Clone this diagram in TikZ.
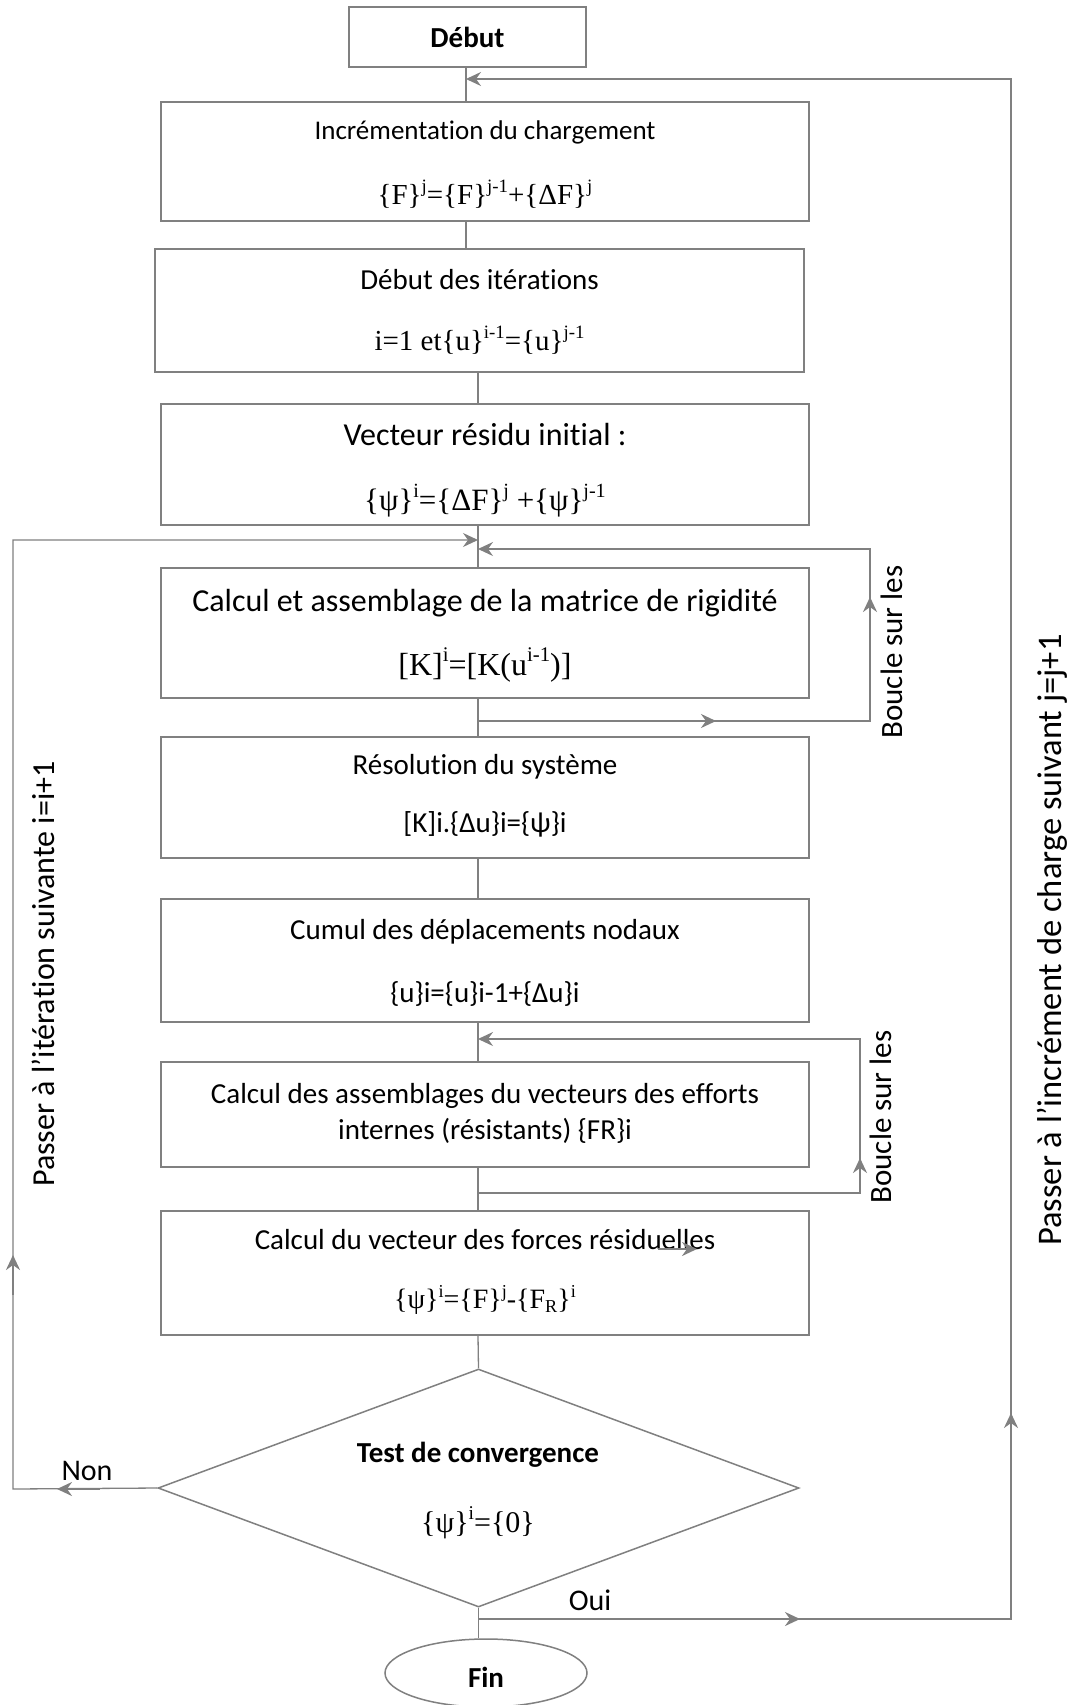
\documentclass[tikz,border=0pt]{standalone}
\usepackage{fontspec}
\setmainfont{Carlito}[Ligatures=NoCommon]
\newfontfamily\tnr{Liberation Serif}
\usetikzlibrary{shapes.geometric,arrows.meta}
\definecolor{lg}{RGB}{128,128,128}
\makeatletter
\newcommand\supx[1]{\raisebox{0.42em}{\fontsize{\strip@pt\dimexpr\f@size pt*65/100\relax}{1}\selectfont #1}}
\newcommand\subx[1]{\raisebox{-0.12em}{\fontsize{\strip@pt\dimexpr\f@size pt*65/100\relax}{1}\selectfont #1}}
\makeatother
\tikzset{
  box/.style={draw=lg, line width=1.5pt, minimum width=648pt, inner sep=0pt, fill=white},
  conn/.style={draw=lg, line width=1.3pt},
  arr/.style={conn, -{Stealth[length=15pt,width=14pt,inset=5pt]}},
  midarr/.style={draw=lg, line width=2.2pt, -{Stealth[length=15pt,width=14pt,inset=5pt]}},
  tx/.style={inner sep=0pt, font=\fontsize{#1}{#1}\selectfont},
  tt/.style={inner sep=0pt, font=\tnr\fontsize{#1}{#1}\selectfont},
  tb/.style={inner sep=0pt, font=\bfseries\fontsize{#1}{#1}\selectfont},
}
\begin{document}
\begin{tikzpicture}[x=1pt,y=-1pt]
\fill[white] (0,0) rectangle (1074,1705);
\useasboundingbox (0,0) rectangle (1074,1705);
% chain x positions
\coordinate (xa) at (466,0);
\coordinate (xb) at (478,0);
% boxes
\node[box, minimum width=237pt, minimum height=60pt] (deb) at (467.5,37) {};
\node[box, minimum height=119pt] (b1) at (485,161.5) {};
\node[box, minimum width=649pt, minimum height=123pt] (b2) at (479.5,310.5) {};
\node[box, minimum height=121pt] (b3) at (485,464.5) {};
\node[box, minimum height=130pt] (b4) at (485,633) {};
\node[box, minimum height=121pt] (b5) at (485,797.5) {};
\node[box, minimum height=123pt] (b6) at (485,960.5) {};
\node[box, minimum height=105pt] (b7) at (485,1114.5) {};
\node[box, minimum height=124pt] (b8) at (485,1273) {};
\node[draw=lg, line width=1.5pt, shape=diamond, minimum width=641pt, minimum height=238pt, inner sep=0pt] (dia) at (478.5,1488) {};
\node[draw=lg, line width=1.5pt, shape=ellipse, minimum width=202pt, minimum height=68pt, inner sep=0pt] (fin) at (486,1673) {};
% texts
\node[tb=29] (debt) at (467.5,37) {Début};
\node[tx=27] (b1t) at (485,132) {Incrémentation du chargement};
\node[tt=29] (b1f) at (485,194) {\{F\}\supx{j}=\{F\}\supx{j-1}+\{ΔF\}\supx{j}};
\node[tx=29] (b2t) at (479.5,280) {Début des itérations};
\node[tt=29] (b2f) at (479.5,340) {i=1 et\{u\}\supx{i-1}=\{u\}\supx{j-1}};
\node[tx=32] (b3t) at (485,435) {Vecteur résidu initial :};
\node[tt=31] (b3f) at (485,501) {\{ψ\}\supx{i}=\{ΔF\}\supx{j} +\{ψ\}\supx{j-1}};
\node[tx=32] (b4t) at (485,603) {Calcul et assemblage de la matrice de rigidité};
\node[tt=32] (b4f) at (485,665) {[K]\supx{i}=[K(u\supx{i-1})]};
\node[tx=29] (b5t) at (485,767) {Résolution du système};
\node[tx=29] (b5f) at (485,824) {[K]i.\{Δu\}i=\{ψ\}i};
\node[tx=29] (b6t) at (485,932) {Cumul des déplacements nodaux};
\node[tx=29] (b6f) at (485,994) {\{u\}i=\{u\}i-1+\{Δu\}i};
\node[tx=29, align=center, font=\fontsize{29}{36}\selectfont] (b7t) at (485,1113) {Calcul des assemblages du vecteurs des efforts\\internes (résistants) \{FR\}i};
\node[tx=29] (b8t) at (485,1240) {Calcul du vecteur des forces résiduelles};
\node[tt=28] (b8f) at (485,1300) {\{ψ\}\supx{i}=\{F\}\supx{j}-\{F\subx{R}\}\supx{i}};
\node[tb=29] (diat) at (478,1455) {Test de convergence};
\node[tt=30] (diaf) at (478,1523) {\{ψ\}\supx{i}=\{0\}};
\node[tb=29] (fint) at (486,1677) {Fin};
\node[tx=30] (non) at (87,1471) {Non};
\node[tx=30] (oui) at (590,1600) {Oui};
\node[tx=32, rotate=90] (lpass) at (43,974) {Passer à l’itération suivante i=i+1};
\node[tx=34.5, rotate=90] (rpass) at (1052,940) {Passer à l’incrément de charge suivant j=j+1};
\node[tx=31, rotate=90] (bc1) at (892,652) {Boucle sur les};
\node[tx=31, rotate=90] (bc2) at (881,1117) {Boucle sur les};
% main chain
\draw[conn] (deb.south -| xa) -- (b1.north -| xa);
\draw[conn] (b1.south -| xa) -- (b2.north -| xa);
\draw[conn] (b2.south -| xb) -- (b3.north -| xb);
\draw[conn] (b3.south -| xb) -- (b4.north -| xb);
\draw[conn] (b4.south -| xb) -- (b5.north -| xb);
\draw[conn] (b5.south -| xb) -- (b6.north -| xb);
\draw[conn] (b6.south -| xb) -- (b7.north -| xb);
\draw[conn] (b7.south -| xb) -- (b8.north -| xb);
\draw[conn] (b8.south -| xb) -- (dia.north);
\draw[conn] (dia.south) -- (dia.south |- fin.north);
% Non loop
\coordinate (l1) at (13,1489);
\coordinate (l2) at (13,540);
\draw[arr] (dia.west) -- (l1) -- (l2) -- (l2 -| xb);
\coordinate (n1s) at (100,1489); \coordinate (n1e) at (57,1489);
\draw[midarr] (n1s) -- (n1e);
\coordinate (n2s) at (13,1295); \coordinate (n2e) at (13,1255);
\draw[midarr] (n2s) -- (n2e);
% inner loop 1
\coordinate (k0) at (478,721);
\coordinate (k1) at (870,721);
\coordinate (k2) at (870,549);
\draw[arr] (k0) -- (k1) -- (k2) -- (k2 -| xb);
\coordinate (k3s) at (680,721); \coordinate (k3e) at (716,721);
\draw[midarr] (k3s) -- (k3e);
\coordinate (k4s) at (870,627); \coordinate (k4e) at (870,597);
\draw[midarr] (k4s) -- (k4e);
% inner loop 2
\coordinate (q0) at (478,1193);
\coordinate (q1) at (860,1193);
\coordinate (q2) at (860,1039);
\draw[arr] (q0) -- (q1) -- (q2) -- (q2 -| xb);
\coordinate (q3s) at (860,1190); \coordinate (q3e) at (860,1158);
\draw[midarr] (q3s) -- (q3e);
\coordinate (q4s) at (658,1249); \coordinate (q4e) at (697,1249);
\draw[midarr] (q4s) -- (q4e);
% Oui loop
\coordinate (o0) at (478,1619);
\coordinate (r1) at (1011,1619);
\coordinate (r2) at (1011,79);
\draw[arr] (o0) -- (r1) -- (r2) -- (r2 -| xa);
\coordinate (o1s) at (762,1619); \coordinate (o1e) at (800,1619);
\draw[midarr] (o1s) -- (o1e);
\coordinate (o2s) at (1011,1458); \coordinate (o2e) at (1011,1413);
\draw[midarr] (o2s) -- (o2e);
\end{tikzpicture}
\end{document}
